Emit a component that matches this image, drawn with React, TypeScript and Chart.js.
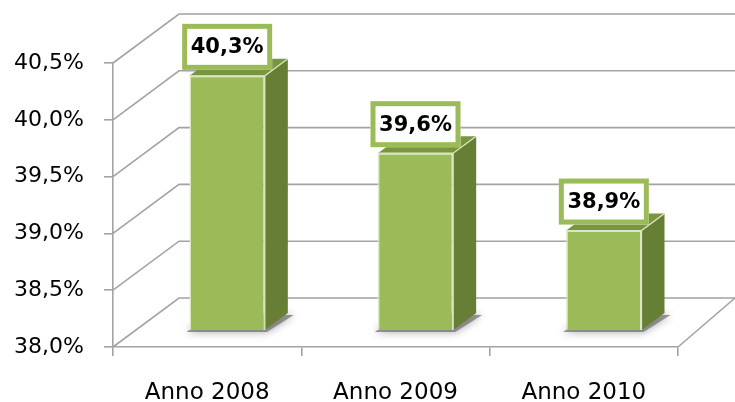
import React, { useEffect, useRef } from 'react';
import { Chart, registerables } from 'chart.js';

Chart.register(...registerables);

// ---- data ----
const categories: string[] = ['Anno 2008', 'Anno 2009', 'Anno 2010'];
const values: number[] = [40.3, 39.6, 38.9];
const yTickValues: number[] = [38.0, 38.5, 39.0, 39.5, 40.0, 40.5];

// ---- style ----
const W = 735;
const H = 402;
const GRID = '#a3a3a3';
const FRONT = '#9bbb59';
const FRONT_EDGE = '#dbe7c3';
const SIDE = '#677f34';
const TOP = '#7a9540';
const BOX = '#9bbb59';
const WALL = { dx: 66, dy: -49 };
const BAR_SHIFT = { dx: 20, dy: -17 };
const BAR_DEPTH = { dx: 23, dy: -17 };

const fmt = (v: number) => v.toFixed(1).replace('.', ',') + '%';

const threeD = {
  id: 'threeD',
  beforeDatasetsDraw(chart: any) {
    const { ctx, chartArea, scales } = chart;
    const y = scales.y;
    ctx.save();
    ctx.strokeStyle = GRID;
    ctx.lineWidth = 1.6;
    yTickValues.forEach((t) => {
      const py = y.getPixelForValue(t);
      ctx.beginPath();
      ctx.moveTo(chartArea.left, py);
      ctx.lineTo(chartArea.left + WALL.dx, py + WALL.dy);
      ctx.lineTo(chart.width, py + WALL.dy);
      ctx.stroke();
    });
    const floorY = y.getPixelForValue(yTickValues[0]);
    ctx.beginPath();
    ctx.moveTo(chartArea.right, floorY);
    ctx.lineTo(chart.width, floorY + WALL.dy);
    ctx.stroke();
    ctx.restore();

    ctx.save();
    ctx.translate(BAR_SHIFT.dx, BAR_SHIFT.dy);
    const meta = chart.getDatasetMeta(0);
    meta.data.forEach((bar: any) => {
      const { x, base, width } = bar.getProps(['x', 'base', 'width'], true);
      const l = x - width / 2;
      const r = x + width / 2;
      ctx.save();
      ctx.shadowColor = 'rgba(0,0,0,0.5)';
      ctx.shadowBlur = 8;
      ctx.fillStyle = 'rgba(110,110,110,0.7)';
      ctx.beginPath();
      ctx.moveTo(l - 3, base + 2);
      ctx.lineTo(r + 2, base + 2);
      ctx.lineTo(r + BAR_DEPTH.dx + 6, base + BAR_DEPTH.dy + 2);
      ctx.lineTo(l + BAR_DEPTH.dx, base + BAR_DEPTH.dy);
      ctx.closePath();
      ctx.fill();
      ctx.restore();
    });
  },
  afterDatasetsDraw(chart: any) {
    const { ctx } = chart;
    const meta = chart.getDatasetMeta(0);
    const data = chart.data.datasets[0].data as number[];
    meta.data.forEach((bar: any, i: number) => {
      const { x, y, base, width } = bar.getProps(['x', 'y', 'base', 'width'], true);
      const l = x - width / 2;
      const r = x + width / 2;
      const { dx, dy } = BAR_DEPTH;
      // side face
      ctx.fillStyle = SIDE;
      ctx.beginPath();
      ctx.moveTo(r, y);
      ctx.lineTo(r + dx, y + dy);
      ctx.lineTo(r + dx, base + dy);
      ctx.lineTo(r, base);
      ctx.closePath();
      ctx.fill();
      // top face
      ctx.fillStyle = TOP;
      ctx.beginPath();
      ctx.moveTo(l, y);
      ctx.lineTo(r, y);
      ctx.lineTo(r + dx, y + dy);
      ctx.lineTo(l + dx, y + dy);
      ctx.closePath();
      ctx.fill();
      // highlight edges
      ctx.strokeStyle = FRONT_EDGE;
      ctx.lineWidth = 1.2;
      ctx.beginPath();
      ctx.moveTo(l, y);
      ctx.lineTo(r, y);
      ctx.lineTo(r + dx, y + dy);
      ctx.moveTo(r, y);
      ctx.lineTo(r, base);
      ctx.stroke();

      // label box
      const bw = 90;
      const bh = 46;
      const bx = x - bw / 2;
      const by = y - 6 - bh;
      ctx.fillStyle = '#ffffff';
      ctx.fillRect(bx, by, bw, bh);
      ctx.strokeStyle = BOX;
      ctx.lineWidth = 5;
      ctx.strokeRect(bx + 2.5, by + 2.5, bw - 5, bh - 5);
      ctx.fillStyle = '#000000';
      ctx.font = 'bold 21px "DejaVu Sans"';
      ctx.textAlign = 'center';
      ctx.textBaseline = 'middle';
      ctx.fillText(fmt(data[i]), x, by + bh / 2 + 1);
    });
    ctx.restore();
  },
};

export default function App() {
  const ref = useRef<HTMLCanvasElement | null>(null);

  useEffect(() => {
    if (!ref.current) return;
    const chart = new Chart(ref.current, {
      type: 'bar',
      data: {
        labels: categories,
        datasets: [
          {
            data: values,
            yAxisID: 'yb',
            base: yTickValues[0],
            backgroundColor: FRONT,
            borderColor: FRONT_EDGE,
            borderWidth: 1.5,
            categoryPercentage: 1,
            barPercentage: 0.4,
            clip: false as any,
          } as any,
        ],
      },
      options: {
        animation: false,
        responsive: false,
        devicePixelRatio: 1,
        layout: { padding: { top: 63, right: 57, left: 0, bottom: 0 } },
        plugins: { legend: { display: false }, tooltip: { enabled: false } },
        scales: {
          x: {
            type: 'category',
            grid: {
              display: true,
              drawOnChartArea: false,
              drawTicks: true,
              tickLength: 9,
              color: GRID,
              lineWidth: 1.6,
              offset: true,
            },
            border: { display: true, color: GRID, width: 1.6 },
            ticks: {
              color: '#000',
              padding: 23,
              font: { family: '"DejaVu Sans"', size: 23 },
            },
            afterFit: (s: any) => {
              s.height = H - 347;
            },
          },
          y: {
            type: 'linear',
            min: 38,
            max: 40.5,
            afterBuildTicks: (s: any) => {
              s.ticks = yTickValues.map((v) => ({ value: v }));
            },
            grid: {
              display: true,
              drawOnChartArea: false,
              drawTicks: true,
              tickLength: 9,
              color: GRID,
              lineWidth: 1.6,
            },
            border: { display: true, color: GRID, width: 1.6 },
            ticks: {
              color: '#000',
              padding: 20,
              font: { family: '"DejaVu Sans"', size: 22 },
              callback: (v: any) => fmt(Number(v)),
            },
            afterFit: (s: any) => {
              s.width = 113;
            },
          },
          yb: {
            type: 'linear',
            display: false,
            min: 38,
            max: 40.57,
          },
        },
      },
      plugins: [threeD],
    });
    return () => chart.destroy();
  }, []);

  return (
    <div style={{ position: 'absolute', left: 0, top: 0, width: W, height: H, background: '#fff' }}>
      <canvas ref={ref} width={W} height={H} style={{ display: 'block' }} />
    </div>
  );
}
